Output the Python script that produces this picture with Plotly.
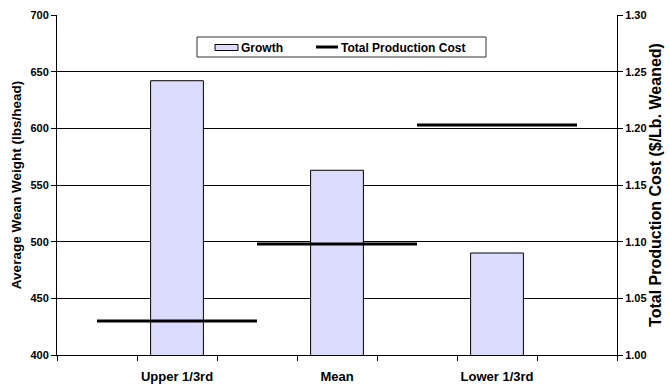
import plotly.graph_objects as go

# Herd groups and their results
categories = ["Upper 1/3rd", "Mean", "Lower 1/3rd"]
growth = [642, 563, 490]              # average wean weight, lbs/head
total_cost = [1.030, 1.098, 1.203]    # total production cost, $/lb weaned
series_names = ["Growth", "Total Production Cost"]

FONT = "Liberation Sans, Arial, sans-serif"
BAR_FILL = "#DCDCFF"
INK = "#000000"
idx = list(range(len(categories)))

# Each cost value is drawn as a flat segment spanning its whole category slot
seg_x, seg_y = [], []
for i, c in zip(idx, total_cost):
    seg_x += [i - 0.5, i + 0.5, None]
    seg_y += [c, c, None]

fig = go.Figure()
fig.add_trace(go.Bar(
    x=idx, y=growth, name=series_names[0], width=0.33,
    marker=dict(color=BAR_FILL, line=dict(color=INK, width=1)),
    yaxis="y", showlegend=False,
))
fig.add_trace(go.Scatter(
    x=seg_x, y=seg_y, name=series_names[1], mode="lines",
    line=dict(color=INK, width=3), yaxis="y2", showlegend=False,
))

# Plot-area geometry in pixels, used to place the boxed key
W, H = 670, 385
L, R, T, B = 57, 53, 15, 30
PW, PH = W - L - R, H - T - B


def px(x):
    return (x - L) / PW


def py(y):
    return (H - B - y) / PH


shapes = [
    # key frame
    dict(type="rect", xref="paper", yref="paper",
         x0=px(197), x1=px(486), y0=py(57), y1=py(37),
         line=dict(color="#333333", width=1), fillcolor="white", layer="above"),
    # bar swatch
    dict(type="rect", xref="paper", yref="paper",
         x0=px(215), x1=px(238), y0=py(50.5), y1=py(44.5),
         line=dict(color=INK, width=1), fillcolor=BAR_FILL, layer="above"),
    # line swatch
    dict(type="line", xref="paper", yref="paper",
         x0=px(316), x1=px(338), y0=py(47), y1=py(47),
         line=dict(color=INK, width=3), layer="above"),
]
annotations = [
    dict(text="<b>%s</b>" % series_names[0], xref="paper", yref="paper",
         x=px(238.5), y=py(47.5), xanchor="left", yanchor="middle",
         showarrow=False, font=dict(family=FONT, size=12, color=INK)),
    dict(text="<b>%s</b>" % series_names[1], xref="paper", yref="paper",
         x=px(338.5), y=py(47.5), xanchor="left", yanchor="middle",
         showarrow=False, font=dict(family=FONT, size=12, color=INK)),
]

fig.update_layout(
    width=W, height=H,
    margin=dict(l=L, r=R, t=T, b=B, autoexpand=False),
    paper_bgcolor="white", plot_bgcolor="white",
    font=dict(family=FONT, size=11, color=INK),
    showlegend=False,
    shapes=shapes, annotations=annotations,
    xaxis=dict(
        range=[-0.75, 2.75], tickmode="array", tickvals=idx,
        ticktext=["<b>%s</b>" % c for c in categories],
        ticks="", showgrid=False, zeroline=False, automargin=False,
        showline=True, linecolor=INK, linewidth=1,
        tickfont=dict(family=FONT, size=13, color=INK),
        ticklabelstandoff=9,
        minor=dict(tick0=-0.75, dtick=0.5, ticks="outside", ticklen=5,
                   tickcolor=INK, tickwidth=1, showgrid=False),
    ),
    yaxis=dict(
        range=[400, 700], dtick=50, tick0=400, automargin=False,
        showgrid=True, gridcolor=INK, gridwidth=1, zeroline=False,
        showline=True, linecolor=INK, linewidth=1,
        ticks="outside", ticklen=5, tickcolor=INK,
        tickfont=dict(family=FONT, size=11, color=INK),
        tickprefix="<b>", ticksuffix="</b>",
        title=dict(text="<b>Average Wean Weight (lbs/head)</b>",
                   font=dict(family=FONT, size=13.5, color=INK), standoff=5),
    ),
    yaxis2=dict(
        range=[1.0, 1.3], dtick=0.05, tick0=1.0, tickformat=".2f",
        overlaying="y", side="right", showgrid=False, zeroline=False,
        automargin=False,
        showline=True, linecolor=INK, linewidth=1,
        ticks="outside", ticklen=5, tickcolor=INK,
        tickfont=dict(family=FONT, size=11, color=INK),
        tickprefix="<b>", ticksuffix="</b>",
        title=dict(text="<b>Total Production Cost ($/Lb. Weaned)</b>",
                   font=dict(family=FONT, size=16, color=INK), standoff=4),
    ),
)

fig.write_html("out.html")
